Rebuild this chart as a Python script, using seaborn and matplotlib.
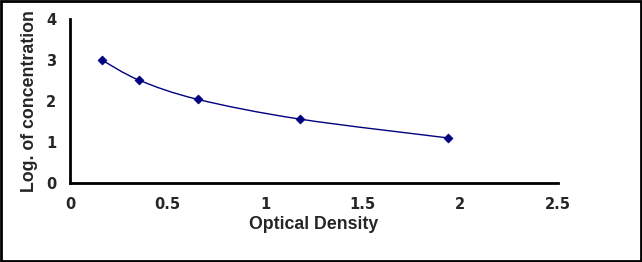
import numpy as np
import pandas as pd
import seaborn as sns
import matplotlib.pyplot as plt
from matplotlib.path import Path
from matplotlib.patches import PathPatch, Rectangle

# standard curve points
od = [0.164, 0.354, 0.656, 1.178, 1.937]
log_conc = [3.0, 2.51, 2.04, 1.56, 1.10]
x_ticks = [0, 0.5, 1, 1.5, 2, 2.5]
y_ticks = [0, 1, 2, 3, 4]

sns.set_style("white")
plt.rcParams['font.family'] = ['Liberation Sans', 'DejaVu Sans']
plt.rcParams['font.weight'] = 'bold'

navy = '#000080'
frame = pd.DataFrame({'od': od, 'logc': log_conc})

fig = plt.figure(figsize=(6.42, 2.62), dpi=100)
ax = fig.add_axes([0.109, 0.3015, 0.76, 0.6255])

# smooth line like excel (catmull-rom as bezier segments)
xs = np.array(od)
ys = np.array(log_conc)
pts = np.column_stack([xs, ys])
verts = [pts[0]]
codes = [Path.MOVETO]
for i in range(len(pts) - 1):
    p0 = pts[i - 1] if i > 0 else pts[i]
    p1 = pts[i]
    p2 = pts[i + 1]
    p3 = pts[i + 2] if i + 2 < len(pts) else pts[i + 1]
    c1 = p1 + (p2 - p0) / 6.0
    c2 = p2 - (p3 - p1) / 6.0
    verts += [c1, c2, p2]
    codes += [Path.CURVE4] * 3
ax.add_patch(PathPatch(Path(verts, codes), fill=False, edgecolor=navy, lw=1.0))

sns.scatterplot(data=frame, x='od', y='logc', ax=ax, marker='D', s=22,
                color=navy, edgecolor=navy, zorder=3)

ax.set_xlim(0, 2.5)
ax.set_ylim(0, 4)
ax.set_xticks(x_ticks)
ax.set_xticklabels(['0', '0.5', '1', '1.5', '2', '2.5'])
ax.set_yticks(y_ticks)
for s in ['top', 'right']:
    ax.spines[s].set_visible(False)
for s in ['left', 'bottom']:
    ax.spines[s].set_linewidth(2)
    ax.spines[s].set_color('black')
ax.tick_params(axis='x', direction='in', length=6, width=1.5, pad=10)
ax.tick_params(axis='y', direction='out', length=5, width=1.5, pad=5)
for lab in ax.get_xticklabels() + ax.get_yticklabels():
    lab.set_fontfamily('DejaVu Sans')
    lab.set_fontsize(10.5)
    lab.set_fontweight('bold')
ax.set_xlabel('Optical Density', fontsize=12.8, fontweight='bold', labelpad=3)
ax.set_ylabel('Log. of concentration', fontsize=12.8, fontweight='bold', labelpad=6)

fig.patches.append(Rectangle((0.002, 0.004), 0.996, 0.992, transform=fig.transFigure,
                             fill=False, edgecolor='black', lw=2))

fig.savefig('out.png', dpi=100)
